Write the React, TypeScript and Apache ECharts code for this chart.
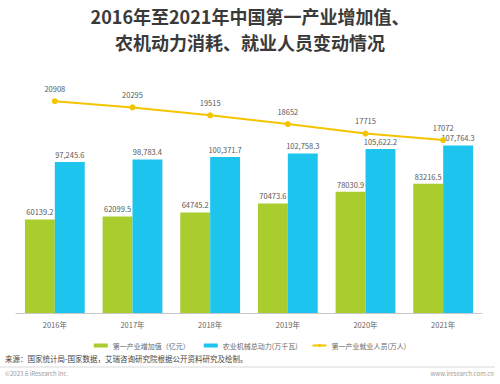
import React, { useEffect, useRef } from "react";
import * as echarts from "echarts";

const categories = ["2016年", "2017年", "2018年", "2019年", "2020年", "2021年"];
const addedValue = [60139.2, 62099.5, 64745.2, 70473.6, 78030.9, 83216.5];
const machinePower = [97245.6, 98783.4, 100371.7, 102758.3, 105622.2, 107764.3];
const employment = [20908, 20295, 19515, 18652, 17715, 17072];

const seriesNames = ["第一产业增加值（亿元）", "农业机械总动力(万千瓦)", "第一产业就业人员(万人)"];

const FONT = "'Noto Sans CJK SC', 'Noto Sans', sans-serif";

export default function App() {
  const ref = useRef<HTMLDivElement>(null);
  useEffect(() => {
    if (!ref.current) return;
    const chart = echarts.init(ref.current, undefined, { renderer: "svg" });
    const labelStyle = { color: "#595959", fontSize: 7.5, fontFamily: FONT };
    chart.setOption({
      animation: false,
      backgroundColor: "#ffffff",
      textStyle: { fontFamily: FONT },
      legend: {
        left: "center",
        top: 337,
        itemWidth: 14,
        itemHeight: 4,
        itemGap: 14,
        textStyle: { fontSize: 7, color: "#666", fontFamily: FONT },
        data: [
          { name: seriesNames[0], icon: "rect" },
          { name: seriesNames[1], icon: "rect" },
          { name: seriesNames[2] },
        ],
      },
      grid: { left: 16, right: 18, top: 80, bottom: 71, containLabel: false },
      xAxis: {
        type: "category",
        data: categories,
        axisLine: { lineStyle: { color: "#c8c8c8", width: 1 } },
        axisTick: { show: false },
        axisLabel: { color: "#666", fontSize: 7.5, margin: 8, fontFamily: FONT },
      },
      yAxis: [
        { type: "value", min: 0, max: 150000, show: false, splitLine: { show: false } },
        { type: "value", min: 0, max: 23000, show: false, splitLine: { show: false } },
      ],
      series: [
        {
          name: seriesNames[0],
          type: "bar",
          data: addedValue,
          barGap: "0%",
          barCategoryGap: "23%",
          itemStyle: { color: "#a8cd2d" },
          label: {
            show: true,
            position: "top",
            distance: 4,
            ...labelStyle,
            formatter: (p: any) => p.value.toFixed(1),
          },
        },
        {
          name: seriesNames[1],
          type: "bar",
          data: machinePower,
          barGap: "0%",
          barCategoryGap: "23%",
          itemStyle: { color: "#1dc5ee" },
          label: {
            show: true,
            position: "top",
            distance: 4,
            ...labelStyle,
            formatter: (p: any) =>
              p.value.toLocaleString("en-US", { minimumFractionDigits: 1, maximumFractionDigits: 1 }),
          },
        },
        {
          name: seriesNames[2],
          type: "line",
          yAxisIndex: 1,
          data: employment,
          symbol: "circle",
          symbolSize: 6,
          lineStyle: { color: "#f5c400", width: 2 },
          itemStyle: { color: "#f5c400" },
          label: { show: true, position: "top", distance: 6, ...labelStyle },
          z: 5,
        },
      ],
      graphic: [
        {
          type: "text",
          x: 250,
          y: 3,
          style: {
            text: "2016年至2021年中国第一产业增加值、\n农机动力消耗、就业人员变动情况",
            fontSize: 18,
            fontWeight: "bold",
            fill: "#3a3a3a",
            lineHeight: 26,
            fontFamily: FONT,
            align: "center",
            verticalAlign: "top",
          },
        },
        {
          type: "text",
          left: 5,
          top: 355,
          style: {
            text: "来源：国家统计局-国家数据，艾瑞咨询研究院根据公开资料研究及绘制。",
            fontSize: 7.5,
            fill: "#444",
            fontFamily: FONT,
          },
        },
        {
          type: "line",
          shape: { x1: 0, y1: 367, x2: 495, y2: 367 },
          style: { stroke: "#d9d9d9", lineWidth: 1 },
        },
        {
          type: "text",
          left: 5,
          top: 370,
          style: { text: "©2023.6 iResearch Inc.", fontSize: 6, fill: "#9a9a9a", fontFamily: FONT },
        },
        {
          type: "text",
          right: 6,
          top: 370,
          style: { text: "www.iresearch.com.cn", fontSize: 6, fill: "#9a9a9a", fontFamily: FONT },
        },
      ],
    });
    return () => chart.dispose();
  }, []);
  return <div ref={ref} style={{ width: 500, height: 384, position: "absolute", left: 0, top: 0 }} />;
}
